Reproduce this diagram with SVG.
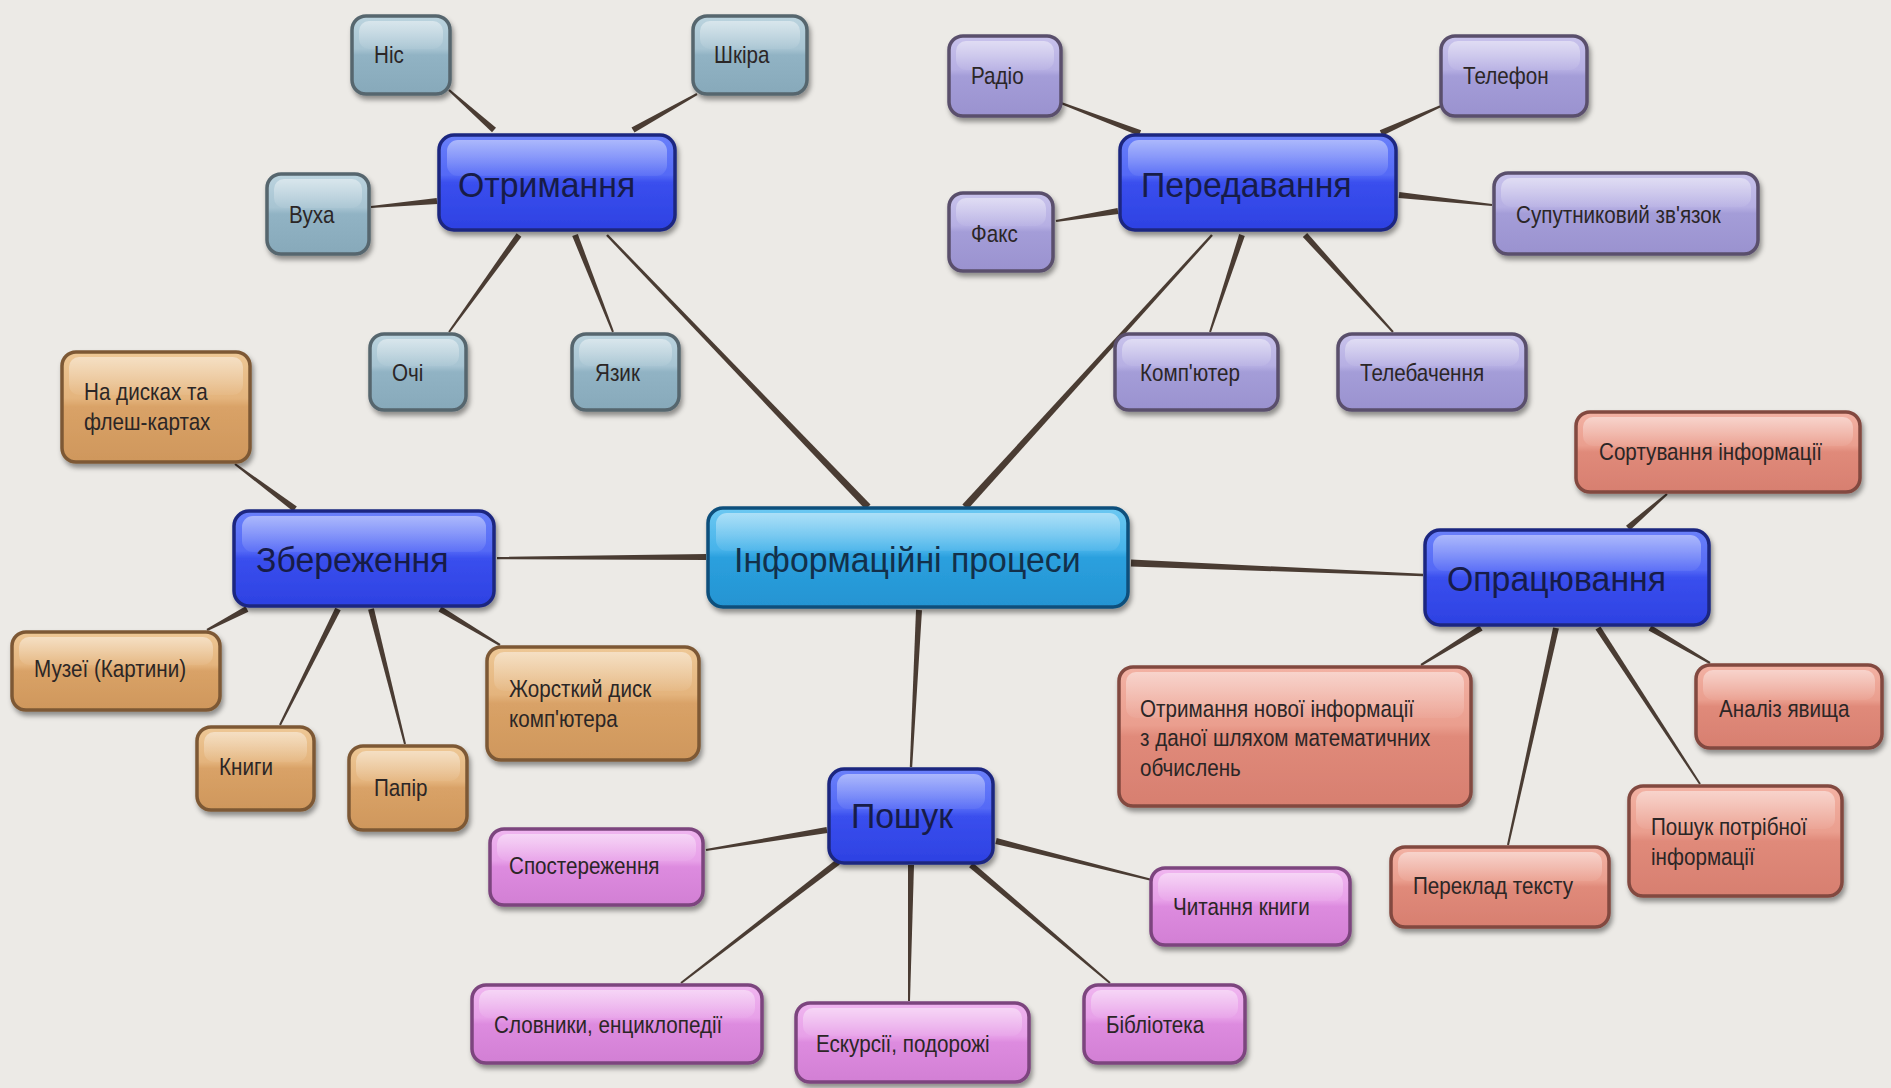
<svg xmlns="http://www.w3.org/2000/svg" width="1891" height="1088" viewBox="0 0 1891 1088">
<defs>
<filter id="sh" x="-20%" y="-20%" width="140%" height="150%">
<feDropShadow dx="2" dy="4" stdDeviation="2.5" flood-color="#000" flood-opacity="0.4"/>
</filter>
<linearGradient id="gHub" x1="0" y1="0" x2="0" y2="1"><stop offset="0" stop-color="#6A80FA"/><stop offset="0.42" stop-color="#5469F6"/><stop offset="0.5" stop-color="#3A4FEE"/><stop offset="1" stop-color="#2D41E2"/></linearGradient>
<linearGradient id="gCen" x1="0" y1="0" x2="0" y2="1"><stop offset="0" stop-color="#6CC8F2"/><stop offset="0.42" stop-color="#47B3EA"/><stop offset="0.5" stop-color="#2BA0DE"/><stop offset="1" stop-color="#2494D2"/></linearGradient>
<linearGradient id="gGr" x1="0" y1="0" x2="0" y2="1"><stop offset="0" stop-color="#BCD4DF"/><stop offset="0.42" stop-color="#A7C4D2"/><stop offset="0.5" stop-color="#91B3C4"/><stop offset="1" stop-color="#87A9BA"/></linearGradient>
<linearGradient id="gLv" x1="0" y1="0" x2="0" y2="1"><stop offset="0" stop-color="#C9C3EC"/><stop offset="0.42" stop-color="#B6AFE3"/><stop offset="0.5" stop-color="#A49DD8"/><stop offset="1" stop-color="#9A92CF"/></linearGradient>
<linearGradient id="gTn" x1="0" y1="0" x2="0" y2="1"><stop offset="0" stop-color="#EEC896"/><stop offset="0.42" stop-color="#E4B47D"/><stop offset="0.5" stop-color="#D9A267"/><stop offset="1" stop-color="#CF975C"/></linearGradient>
<linearGradient id="gSa" x1="0" y1="0" x2="0" y2="1"><stop offset="0" stop-color="#F3B2A4"/><stop offset="0.42" stop-color="#EA9E8E"/><stop offset="0.5" stop-color="#E08A7A"/><stop offset="1" stop-color="#D77F70"/></linearGradient>
<linearGradient id="gPk" x1="0" y1="0" x2="0" y2="1"><stop offset="0" stop-color="#F0B6F0"/><stop offset="0.42" stop-color="#E7A0E8"/><stop offset="0.5" stop-color="#DD8BDF"/><stop offset="1" stop-color="#D27FD4"/></linearGradient>
<linearGradient id="gGloss" x1="0" y1="0" x2="0" y2="1"><stop offset="0" stop-color="#fff" stop-opacity="0.45"/><stop offset="1" stop-color="#fff" stop-opacity="0.05"/></linearGradient>
</defs>
<style>
.bg{fill:#ECEAE6}
.conn polygon{fill:#4A3C33}
rect.b{stroke-width:3.5;filter:url(#sh)}
rect.gl{fill:url(#gGloss);stroke:none}
.hub rect.b{fill:url(#gHub);stroke:#1D2780}
.cen rect.b{fill:url(#gCen);stroke:#0E507C}
.gr rect.b{fill:url(#gGr);stroke:#56666E}
.lv rect.b{fill:url(#gLv);stroke:#5A4F6C}
.tn rect.b{fill:url(#gTn);stroke:#7D5934}
.sa rect.b{fill:url(#gSa);stroke:#82483F}
.pk rect.b{fill:url(#gPk);stroke:#7C447E}
text{font-family:"Liberation Sans",Arial,sans-serif;font-size:24px;fill:#2B2626;transform-box:fill-box;transform-origin:0 50%;transform:scaleX(0.86)}
.hub text,.cen text{font-size:36px;fill:#171C48;transform:scaleX(0.94)}
.cen text{fill:#13304A}
</style>
<rect class="bg" x="0" y="0" width="1891" height="1088"/>
<g id="connectors" class="conn">
<polygon points="870.5,504.6 607.9,234.2 606.1,235.8 865.5,509.4"/>
<polygon points="967.6,509.4 1212.9,235.8 1211.1,234.2 962.4,504.6"/>
<polygon points="706,554 497,556.8 497,559.2 706,560"/>
<polygon points="1130.9,566.5 1423,576.2 1423,573.8 1131.1,559.5"/>
<polygon points="916,609.8 909.8,766.9 912.2,767.1 922,610.2"/>
<polygon points="496,127.8 449.7,89.3 448.3,90.7 492,132.2"/>
<polygon points="634.5,132.6 697.5,94.9 696.5,93.1 631.5,127.4"/>
<polygon points="436.7,198 370.9,206 371.1,208 437.3,204"/>
<polygon points="516.6,233.2 448.2,331.4 449.8,332.6 521.4,236.8"/>
<polygon points="572.2,236.1 612.1,332.4 613.9,331.6 577.8,233.9"/>
<polygon points="1141.1,130.2 1061.4,102.1 1060.6,103.9 1138.9,135.8"/>
<polygon points="1382.2,135.7 1441.4,106.9 1440.6,105.1 1379.8,130.3"/>
<polygon points="1117.5,208 1055.8,220 1056.2,222 1118.5,214"/>
<polygon points="1398.7,198 1491.9,206 1492.1,204 1399.3,192"/>
<polygon points="1239.2,234.1 1209.1,331.7 1211,332.3 1244.8,235.9"/>
<polygon points="1302.8,237 1392.3,332.7 1393.7,331.3 1307.2,233"/>
<polygon points="296.8,506.6 235.6,463.2 234.4,464.8 293.2,511.4"/>
<polygon points="245.6,606.3 206.5,629.1 207.5,630.9 248.4,611.7"/>
<polygon points="335.3,607.7 279.1,724.6 280.9,725.4 340.7,610.3"/>
<polygon points="368.1,609.7 404,744.2 406,743.8 373.9,608.3"/>
<polygon points="438.5,611.6 499.5,645.9 500.5,644.1 441.5,606.4"/>
<polygon points="1630,530.3 1667.7,494.8 1666.3,493.2 1626,525.7"/>
<polygon points="1479.4,625.4 1420.5,664.1 1421.5,665.9 1482.6,630.6"/>
<polygon points="1648.5,630.6 1709.5,663.9 1710.5,662.1 1651.5,625.4"/>
<polygon points="1553.1,627.4 1507,844.8 1509,845.2 1558.9,628.6"/>
<polygon points="1595.5,629.6 1699.2,784.5 1700.8,783.5 1600.5,626.4"/>
<polygon points="826.5,827 705.8,849 706.2,851 827.5,833"/>
<polygon points="995.3,843.9 1151.8,881 1152.2,879 996.7,838.1"/>
<polygon points="836.2,859.6 680.4,982.2 681.6,983.8 839.8,864.4"/>
<polygon points="908,865 908,1001 910,1001 914,865"/>
<polygon points="969.1,867.3 1109.4,983.8 1110.6,982.2 972.9,862.7"/>
</g>

<g id="n-central" class="cen"><rect class="b" x="708" y="508" width="420" height="99" rx="15"/><rect class="gl" x="716" y="513" width="404" height="38" rx="11"/><text x="734" y="572">Інформаційні процеси</text></g>

<g id="n-otrymannia" class="hub"><rect class="b" x="439" y="135" width="236" height="95" rx="15"/><rect class="gl" x="447" y="140" width="220" height="36" rx="11"/><text x="458" y="197">Отримання</text></g>
<g id="n-nis" class="gr"><rect class="b" x="352" y="16" width="98" height="78" rx="14"/><rect class="gl" x="359" y="21" width="84" height="28" rx="10"/><text x="374" y="63">Ніс</text></g>
<g id="n-shkira" class="gr"><rect class="b" x="693" y="16" width="114" height="78" rx="14"/><rect class="gl" x="700" y="21" width="100" height="28" rx="10"/><text x="714" y="63">Шкіра</text></g>
<g id="n-vukha" class="gr"><rect class="b" x="267" y="174" width="102" height="80" rx="14"/><rect class="gl" x="274" y="179" width="88" height="29" rx="10"/><text x="289" y="223">Вуха</text></g>
<g id="n-ochi" class="gr"><rect class="b" x="370" y="334" width="96" height="76" rx="14"/><rect class="gl" x="377" y="339" width="82" height="27" rx="10"/><text x="392" y="381">Очі</text></g>
<g id="n-yazyk" class="gr"><rect class="b" x="572" y="334" width="107" height="76" rx="14"/><rect class="gl" x="579" y="339" width="93" height="27" rx="10"/><text x="595" y="381">Язик</text></g>

<g id="n-peredavannia" class="hub"><rect class="b" x="1120" y="135" width="276" height="95" rx="15"/><rect class="gl" x="1128" y="140" width="260" height="36" rx="11"/><text x="1141" y="197">Передавання</text></g>
<g id="n-radio" class="lv"><rect class="b" x="949" y="36" width="112" height="80" rx="14"/><rect class="gl" x="956" y="41" width="98" height="29" rx="10"/><text x="971" y="84">Радіо</text></g>
<g id="n-telefon" class="lv"><rect class="b" x="1441" y="36" width="146" height="80" rx="14"/><rect class="gl" x="1448" y="41" width="132" height="29" rx="10"/><text x="1463" y="84">Телефон</text></g>
<g id="n-faks" class="lv"><rect class="b" x="949" y="193" width="104" height="78" rx="14"/><rect class="gl" x="956" y="198" width="90" height="28" rx="10"/><text x="971" y="242">Факс</text></g>
<g id="n-suputnyk" class="lv"><rect class="b" x="1494" y="173" width="264" height="81" rx="14"/><rect class="gl" x="1501" y="178" width="250" height="29" rx="10"/><text x="1516" y="223">Супутниковий зв'язок</text></g>
<g id="n-kompiuter" class="lv"><rect class="b" x="1115" y="334" width="163" height="76" rx="14"/><rect class="gl" x="1122" y="339" width="149" height="27" rx="10"/><text x="1140" y="381">Комп'ютер</text></g>
<g id="n-telebachennia" class="lv"><rect class="b" x="1338" y="334" width="188" height="76" rx="14"/><rect class="gl" x="1345" y="339" width="174" height="27" rx="10"/><text x="1360" y="381">Телебачення</text></g>

<g id="n-zberezhennia" class="hub"><rect class="b" x="234" y="511" width="260" height="95" rx="15"/><rect class="gl" x="242" y="516" width="244" height="36" rx="11"/><text x="256" y="572">Збереження</text></g>
<g id="n-dysky" class="tn"><rect class="b" x="62" y="352" width="188" height="110" rx="14"/><rect class="gl" x="69" y="357" width="174" height="38" rx="10"/><text x="84" y="400">На дисках та</text><text x="84" y="430">флеш-картах</text></g>
<g id="n-muzei" class="tn"><rect class="b" x="12" y="632" width="208" height="78" rx="14"/><rect class="gl" x="19" y="637" width="194" height="28" rx="10"/><text x="34" y="677">Музеї (Картини)</text></g>
<g id="n-knyhy" class="tn"><rect class="b" x="197" y="727" width="117" height="83" rx="14"/><rect class="gl" x="204" y="732" width="103" height="30" rx="10"/><text x="219" y="775">Книги</text></g>
<g id="n-papir" class="tn"><rect class="b" x="349" y="746" width="118" height="84" rx="14"/><rect class="gl" x="356" y="751" width="104" height="30" rx="10"/><text x="374" y="796">Папір</text></g>
<g id="n-disk" class="tn"><rect class="b" x="487" y="647" width="212" height="113" rx="14"/><rect class="gl" x="494" y="652" width="198" height="39" rx="10"/><text x="509" y="697">Жорсткий диск</text><text x="509" y="727">комп'ютера</text></g>

<g id="n-opratsiuvannia" class="hub"><rect class="b" x="1425" y="530" width="284" height="95" rx="15"/><rect class="gl" x="1433" y="535" width="268" height="36" rx="11"/><text x="1447" y="591">Опрацювання</text></g>
<g id="n-sortuvannia" class="sa"><rect class="b" x="1576" y="412" width="284" height="80" rx="14"/><rect class="gl" x="1583" y="417" width="270" height="29" rx="10"/><text x="1599" y="460">Сортування інформації</text></g>
<g id="n-otrymannia-novoi" class="sa"><rect class="b" x="1119" y="667" width="352" height="139" rx="14"/><rect class="gl" x="1126" y="672" width="338" height="46" rx="10"/><text x="1140" y="717">Отримання нової інформації</text><text x="1140" y="746">з даної шляхом математичних</text><text x="1140" y="776">обчислень</text></g>
<g id="n-analiz" class="sa"><rect class="b" x="1696" y="665" width="186" height="83" rx="14"/><rect class="gl" x="1703" y="670" width="172" height="30" rx="10"/><text x="1719" y="717">Аналіз явища</text></g>
<g id="n-pereklad" class="sa"><rect class="b" x="1391" y="847" width="218" height="80" rx="14"/><rect class="gl" x="1398" y="852" width="204" height="29" rx="10"/><text x="1413" y="894">Переклад тексту</text></g>
<g id="n-poshuk-potribnoi" class="sa"><rect class="b" x="1629" y="786" width="213" height="110" rx="14"/><rect class="gl" x="1636" y="791" width="199" height="38" rx="10"/><text x="1651" y="835">Пошук потрібної</text><text x="1651" y="865">інформації</text></g>

<g id="n-poshuk" class="hub"><rect class="b" x="829" y="769" width="164" height="94" rx="15"/><rect class="gl" x="837" y="774" width="148" height="35" rx="11"/><text x="851" y="828">Пошук</text></g>
<g id="n-sposterezhennia" class="pk"><rect class="b" x="490" y="829" width="213" height="76" rx="14"/><rect class="gl" x="497" y="834" width="199" height="27" rx="10"/><text x="509" y="874">Спостереження</text></g>
<g id="n-chytannia" class="pk"><rect class="b" x="1151" y="868" width="199" height="77" rx="14"/><rect class="gl" x="1158" y="873" width="185" height="28" rx="10"/><text x="1173" y="915">Читання книги</text></g>
<g id="n-slovnyky" class="pk"><rect class="b" x="472" y="985" width="290" height="78" rx="14"/><rect class="gl" x="479" y="990" width="276" height="28" rx="10"/><text x="494" y="1033">Словники, енциклопедії</text></g>
<g id="n-ekskursii" class="pk"><rect class="b" x="796" y="1003" width="233" height="79" rx="14"/><rect class="gl" x="803" y="1008" width="219" height="28" rx="10"/><text x="816" y="1052">Ескурсії, подорожі</text></g>
<g id="n-biblioteka" class="pk"><rect class="b" x="1084" y="985" width="161" height="78" rx="14"/><rect class="gl" x="1091" y="990" width="147" height="28" rx="10"/><text x="1106" y="1033">Бібліотека</text></g>
</svg>
